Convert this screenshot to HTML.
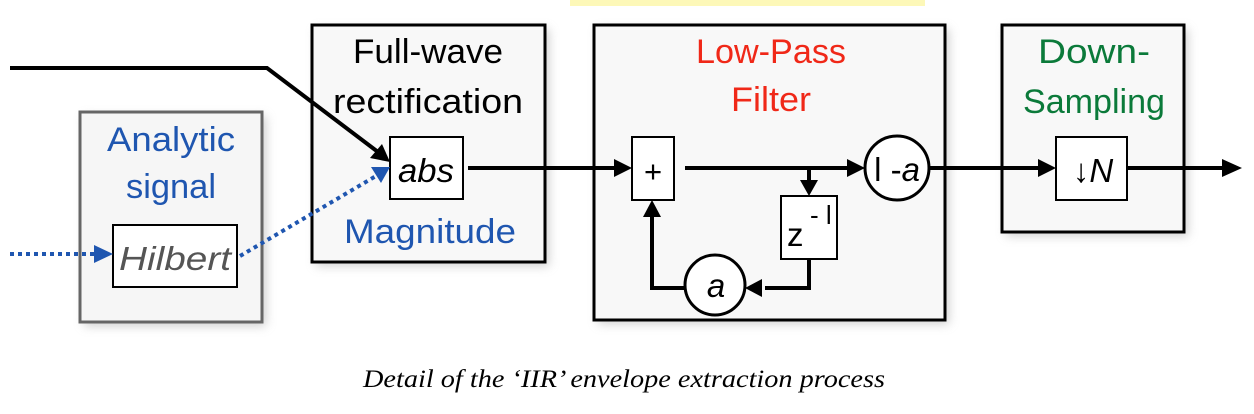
<!DOCTYPE html>
<html><head><meta charset="utf-8"><style>
html,body{margin:0;padding:0;background:#fff;}
svg{display:block;}
.s{font-family:"Liberation Sans",sans-serif;}
.cap{font-family:"Liberation Serif",serif;font-style:italic;}
</style></head><body>
<svg width="1254" height="414" viewBox="0 0 1254 414" xmlns="http://www.w3.org/2000/svg">
<defs>
<filter id="sh" x="-10%" y="-10%" width="120%" height="120%"><feGaussianBlur stdDeviation="5"/></filter>
</defs>
<rect x="570" y="0" width="355" height="6" fill="#fdf8b8"/>
<g fill="#bbb" filter="url(#sh)" opacity="0.7">
<rect x="84" y="116" width="182" height="210"/>
<rect x="316" y="29" width="233" height="237"/>
<rect x="598" y="29" width="351" height="295"/>
<rect x="1006" y="29" width="182" height="207"/>
</g>
<rect x="80" y="112" width="182" height="210" fill="#f6f6f6" stroke="#666" stroke-width="3"/>
<rect x="312" y="25" width="233" height="237" fill="#f8f8f8" stroke="#000" stroke-width="3"/>
<rect x="594" y="25" width="351" height="295" fill="#f8f8f8" stroke="#000" stroke-width="3"/>
<rect x="1002" y="25" width="182" height="207" fill="#f8f8f8" stroke="#000" stroke-width="3"/>

<g class="s" font-size="34" text-anchor="middle">
<text x="428" y="63" textLength="150" lengthAdjust="spacingAndGlyphs">Full-wave</text>
<text x="428" y="113" textLength="190" lengthAdjust="spacingAndGlyphs">rectification</text>
<text x="430" y="243" fill="#1f56b0" textLength="172" lengthAdjust="spacingAndGlyphs">Magnitude</text>
<text x="171" y="151" fill="#1f56b0" textLength="128" lengthAdjust="spacingAndGlyphs">Analytic</text>
<text x="171" y="198" fill="#1f56b0" textLength="90" lengthAdjust="spacingAndGlyphs">signal</text>
<text x="771" y="63" fill="#f02818" textLength="150" lengthAdjust="spacingAndGlyphs">Low-Pass</text>
<text x="771" y="111" fill="#f02818" textLength="80" lengthAdjust="spacingAndGlyphs">Filter</text>
<text x="1094" y="63" fill="#0b7a3a" textLength="112" lengthAdjust="spacingAndGlyphs">Down-</text>
<text x="1094" y="113" fill="#0b7a3a" textLength="142" lengthAdjust="spacingAndGlyphs">Sampling</text>
</g>

<g class="s">
<rect x="113" y="225" width="124" height="62" fill="#fff" stroke="#000" stroke-width="2"/>
<text x="175" y="270" font-size="33" font-style="italic" fill="#555" text-anchor="middle" textLength="112" lengthAdjust="spacingAndGlyphs">Hilbert</text>
<rect x="390" y="137" width="73" height="62" fill="#fff" stroke="#000" stroke-width="2"/>
<text x="426" y="182" font-size="33" font-style="italic" text-anchor="middle" textLength="56" lengthAdjust="spacingAndGlyphs">abs</text>
<rect x="632" y="137" width="42" height="63" fill="#fff" stroke="#000" stroke-width="2"/>
<text x="653" y="182" font-size="31" text-anchor="middle">+</text>
<rect x="781" y="196" width="56" height="63" fill="#fff" stroke="#000" stroke-width="2"/>
<text x="787" y="246" font-size="33">z</text>
<text x="810" y="224" font-size="26">- l</text>
<circle cx="897" cy="168" r="32" fill="#fff" stroke="#000" stroke-width="3"/>
<text x="897" y="181" font-size="33" text-anchor="middle">l -<tspan font-style="italic">a</tspan></text>
<circle cx="715" cy="285" r="30" fill="#fff" stroke="#000" stroke-width="3"/>
<text x="716" y="297" font-size="33" font-style="italic" text-anchor="middle">a</text>
<rect x="1056" y="137" width="71" height="63" fill="#fff" stroke="#000" stroke-width="2"/>
<text x="1093" y="182" font-size="33" font-weight="bold" text-anchor="middle">↓<tspan font-style="italic" font-weight="normal">N</tspan></text>
</g>

<g stroke="#000" stroke-width="4" fill="none">
<polyline points="10,68 267,68 378,152"/>
<line x1="468" y1="168" x2="618" y2="168"/>
<line x1="685" y1="168" x2="850" y2="168"/>
<line x1="809" y1="168" x2="809" y2="186"/>
<polyline points="809,259 809,288 765,288"/>
<polyline points="685,288 652,288 652,215"/>
<line x1="929" y1="168" x2="1040" y2="168"/>
<line x1="1127" y1="168" x2="1225" y2="168"/>
</g>
<g fill="#000">
<polygon points="390,162 370,158 382,144"/>
<polygon points="632,168 614,159 614,177"/>
<polygon points="865,168 847,159 847,177"/>
<polygon points="809,196 800,180 818,180"/>
<polygon points="745,288 762,279 762,297"/>
<polygon points="652,200 643,217 661,217"/>
<polygon points="1056,168 1038,159 1038,177"/>
<polygon points="1242,168 1222,159 1222,177"/>
</g>
<g stroke="#1f56b0" stroke-width="4" fill="none" stroke-dasharray="4 4">
<line x1="10" y1="254" x2="96" y2="254"/>
<line x1="240" y1="256" x2="376" y2="176"/>
</g>
<g fill="#1f56b0">
<polygon points="113,254 94,245 94,263"/>
<polygon points="390,167 371,167 381,183"/>
</g>
<text class="cap" x="624" y="387" font-size="25" text-anchor="middle" textLength="522" lengthAdjust="spacingAndGlyphs">Detail of the ‘IIR’ envelope extraction process</text>
</svg>
</body></html>
